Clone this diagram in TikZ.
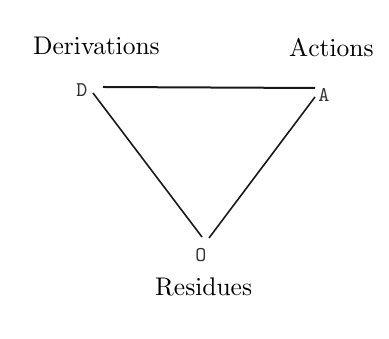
\documentclass[tikz,border=0pt]{standalone}
\font\lblfont=cmr10 at 25.5pt
\font\vtxfont=cmtt10 at 21pt
\begin{document}
\begin{tikzpicture}[x=1pt,y=1pt,
  lbl/.style={font=\lblfont, inner sep=0pt, text=black},
  vtx/.style={font=\vtxfont, inner sep=0pt, text=black!80},
  edge/.style={line width=1.6pt, draw=black!90}]
\useasboundingbox (0,0) rectangle (389,339);
\node[lbl, anchor=base west] (der) at (33,284) {Derivations};
\node[lbl, anchor=base west] (act) at (289,282) {Actions};
\node[lbl, anchor=base west] (res) at (155,43) {Residues};
\node[vtx] (D) at (82,249) {D};
\node[vtx] (A) at (324,244) {A};
\node[vtx] (O) at (201,84) {O};
\coordinate (d1) at (103,252);
\coordinate (a1) at (315,251);
\coordinate (d2) at (93,246);
\coordinate (o1) at (202,102);
\coordinate (a2) at (315,242);
\coordinate (o2) at (209,101);
\draw[edge, line width=2pt] (d1) -- (a1);
\draw[edge] (d2) -- (o1);
\draw[edge] (a2) -- (o2);
\end{tikzpicture}
\end{document}
